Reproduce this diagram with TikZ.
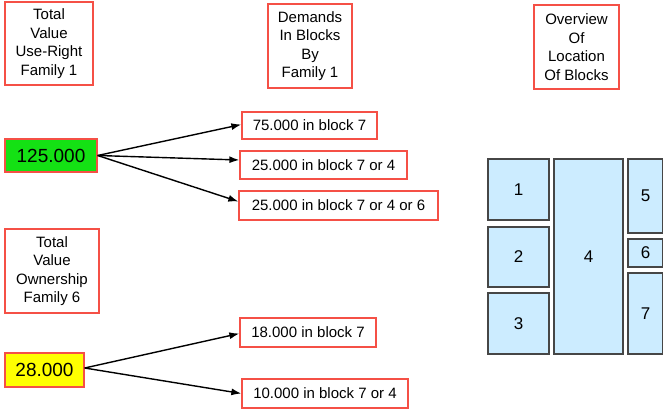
\documentclass[tikz,border=0pt]{standalone}
\usepackage{fontspec}
\setmainfont{Liberation Sans}
\usetikzlibrary{arrows.meta}
\definecolor{boxred}{RGB}{245,80,70}
\definecolor{numgreen}{RGB}{20,225,20}
\definecolor{numyellow}{RGB}{255,255,0}
\definecolor{blockblue}{RGB}{204,236,255}
\definecolor{blockedge}{RGB}{70,70,70}
\tikzset{
  redbox/.style={draw=boxred, line width=1.3pt, fill=white, inner sep=0pt, align=center,
    font=\fontsize{15}{18.5}\selectfont},
  numbox/.style={draw=boxred, line width=1.3pt, inner sep=0pt, font=\fontsize{19}{22}\selectfont},
  blockbox/.style={draw=blockedge, line width=1.5pt, fill=blockblue, inner sep=0pt,
    font=\fontsize{17}{20}\selectfont},
  arr/.style={line width=1.4pt, -{Latex[length=10pt,width=7pt]}}
}
\begin{document}
\begin{tikzpicture}[x=1pt,y=-1pt]
\useasboundingbox (0,0) rectangle (663,409);
% titles
\node[redbox, minimum width=88, minimum height=83] (t1) at (49,43.5) {Total\\Value\\Use-Right\\Family 1};
\node[redbox, minimum width=84, minimum height=84] (t2) at (310,46) {Demands\\In Blocks\\By\\Family 1};
\node[redbox, minimum width=85, minimum height=84] (t3) at (576.5,47) {Overview\\Of\\Location\\Of Blocks};
\node[redbox, minimum width=94, minimum height=84] (t4) at (52,271) {Total\\Value\\Ownership\\Family 6};
% numbers
\node[numbox, fill=numgreen, minimum width=92, minimum height=33] (n125) at (51,155.5) {125.000};
\node[numbox, fill=numyellow, minimum width=79, minimum height=34] (n28) at (44.5,370) {28.000};
% demand boxes
\node[redbox, minimum width=135, minimum height=27] (b1) at (309.5,125.5) {75.000 in block 7};
\node[redbox, minimum width=167, minimum height=28] (b2) at (323.5,165) {25.000 in block 7 or 4};
\node[redbox, minimum width=199, minimum height=29] (b3) at (338.5,205.5) {25.000 in block 7 or 4 or 6};
\node[redbox, minimum width=136, minimum height=29] (c1) at (308,332.5) {18.000 in block 7};
\node[redbox, minimum width=166, minimum height=29] (c2) at (325,393.5) {10.000 in block 7 or 4};
% arrows
\draw[arr] (n125.east) -- ([yshift=1pt]b1.west);
\draw[arr] (n125.east) -- ([yshift=5pt]b2.west);
\draw[arr] (n125.east) -- ([yshift=4pt]b3.west);
\draw[arr] ([yshift=2pt]n28.east) -- ([yshift=-1pt]c1.west);
\draw[arr] ([yshift=2pt]n28.east) -- (c2.west);
% blocks
\node[blockbox, minimum width=61, minimum height=61] (k1) at (518.5,189.5) {1};
\node[blockbox, minimum width=61, minimum height=60] (k2) at (518.5,257) {2};
\node[blockbox, minimum width=61, minimum height=61] (k3) at (518.5,323.5) {3};
\node[blockbox, minimum width=69, minimum height=195] (k4) at (588.5,256.5) {4};
\node[blockbox, minimum width=35, minimum height=74] (k5) at (645.5,196) {5};
\node[blockbox, minimum width=35, minimum height=28] (k6) at (645.5,253) {6};
\node[blockbox, minimum width=35, minimum height=81] (k7) at (645.5,313.5) {7};
\end{tikzpicture}
\end{document}
